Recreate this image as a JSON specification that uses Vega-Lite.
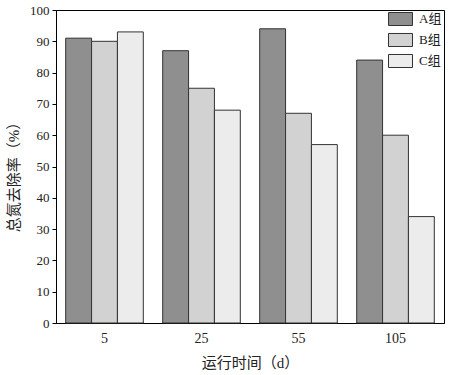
{
  "$schema": "https://vega.github.io/schema/vega-lite/v6.json",
  "width": 388,
  "height": 313,
  "autosize": "none",
  "padding": {"left": 56, "top": 10, "right": 6, "bottom": 52},
  "background": "white",
  "data": {
    "values": [
      {"day": "5", "group": "A组", "value": 91},
      {"day": "5", "group": "B组", "value": 90},
      {"day": "5", "group": "C组", "value": 93},
      {"day": "25", "group": "A组", "value": 87},
      {"day": "25", "group": "B组", "value": 75},
      {"day": "25", "group": "C组", "value": 68},
      {"day": "55", "group": "A组", "value": 94},
      {"day": "55", "group": "B组", "value": 67},
      {"day": "55", "group": "C组", "value": 57},
      {"day": "105", "group": "A组", "value": 84},
      {"day": "105", "group": "B组", "value": 60},
      {"day": "105", "group": "C组", "value": 34}
    ]
  },
  "mark": {"type": "bar", "stroke": "#333333", "strokeWidth": 1},
  "encoding": {
    "x": {
      "field": "day", "type": "ordinal", "sort": ["5", "25", "55", "105"],
      "scale": {"paddingInner": 0.2, "paddingOuter": 0.1},
      "axis": {
        "title": "运行时间（d）", "labelAngle": 0, "ticks": false,
        "labelPadding": 8, "labelFontSize": 14, "titleFontSize": 15,
        "titlePadding": 10, "domainColor": "#000", "labelColor": "#222", "titleColor": "#222"
      }
    },
    "xOffset": {"field": "group", "type": "nominal", "sort": ["A组", "B组", "C组"]},
    "y": {
      "field": "value", "type": "quantitative",
      "scale": {"domain": [0, 100], "nice": false},
      "axis": {
        "title": "总氮去除率（%）", "values": [0, 10, 20, 30, 40, 50, 60, 70, 80, 90, 100],
        "grid": false, "tickSize": 4, "tickColor": "#000", "domainColor": "#000",
        "labelPadding": 3, "labelFontSize": 13, "titleFontSize": 15,
        "titlePadding": 8, "titleY": 163, "labelColor": "#222", "titleColor": "#222"
      }
    },
    "fill": {
      "field": "group", "type": "nominal",
      "scale": {"domain": ["A组", "B组", "C组"], "range": ["#8f8f8f", "#d2d2d2", "#ececec"]},
      "legend": {
        "title": null, "orient": "none", "legendX": 337, "legendY": 1.5,
        "symbolType": "M-1.714,-0.93H1.714V0.93H-1.714Z", "symbolSize": 196,
        "symbolStrokeColor": "#333333", "symbolStrokeWidth": 1, "symbolFillOpacity": 1,
        "labelFontSize": 13, "labelColor": "#222", "rowPadding": 2, "labelOffset": 11
      }
    }
  },
  "config": {
    "font": "Liberation Serif, Noto Sans CJK SC",
    "axis": {"titleFontWeight": "normal", "labelFont": "Liberation Serif, Noto Sans CJK SC", "titleFont": "Liberation Serif, Noto Sans CJK SC"},
    "legend": {"labelFont": "Liberation Serif, Noto Sans CJK SC"},
    "view": {"stroke": "#000000", "strokeWidth": 1}
  }
}
